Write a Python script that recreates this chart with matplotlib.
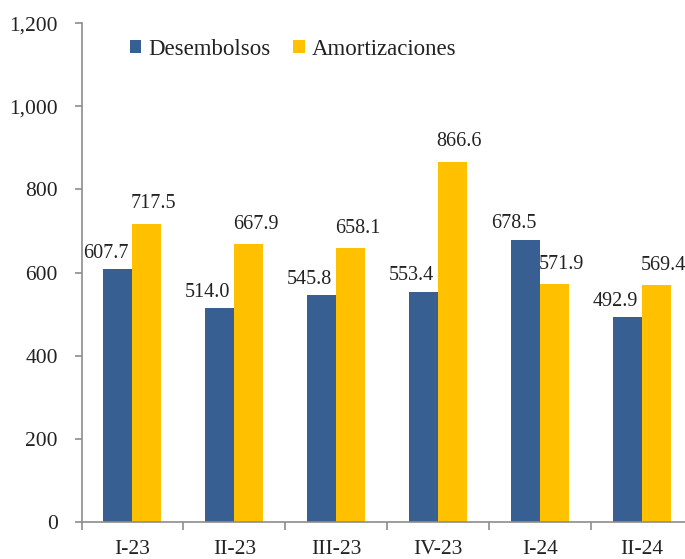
import matplotlib
matplotlib.use("Agg")
import matplotlib.pyplot as plt
import numpy as np

categories = ["I-23", "II-23", "III-23", "IV-23", "I-24", "II-24"]
desembolsos = [607.7, 514.0, 545.8, 553.4, 678.5, 492.9]
amortizaciones = [717.5, 667.9, 658.1, 866.6, 571.9, 569.4]
yticks = [0, 200, 400, 600, 800, 1000, 1200]
ytick_labels = ["0", "200", "400", "600", "800", "1,000", "1,200"]

plt.rcParams['font.family'] = ['Liberation Serif', 'DejaVu Serif']
blue = "#375F91"
yellow = "#FFC000"
axcol = "#8C8C8C"

fig = plt.figure(figsize=(6.85, 5.59), dpi=100)
ax = fig.add_axes([81.5/685, 1-521.7/559, (692.5-81.5)/685, (521.7-23.3)/559])

x = np.arange(len(categories))
w = 0.285
ax.bar(x - w/2, desembolsos, w, color=blue, label="Desembolsos")
ax.bar(x + w/2, amortizaciones, w, color=yellow, label="Amortizaciones")

for xi, v in zip(x, desembolsos):
    ax.annotate(f"{v:.1f}", (xi - w/2, v), xytext=(-8.5, 11.5), textcoords="offset points",
                ha="center", va="center", fontsize=14.5, color="#222222")
for xi, v in zip(x, amortizaciones):
    ax.annotate(f"{v:.1f}", (xi + w/2, v), xytext=(5, 14.5), textcoords="offset points",
                ha="center", va="center", fontsize=14.5, color="#222222")

ax.set_xlim(-0.5, len(categories) - 0.5)
ax.set_ylim(0, 1200)
ax.set_yticks(yticks)
ax.set_yticklabels(ytick_labels)
ax.set_xticks(x)
ax.set_xticklabels(categories)
ax.set_xticks(np.arange(len(categories) + 1) - 0.5, minor=True)
ax.tick_params(axis="x", which="major", length=0, pad=13, labelsize=15.5, colors="#222222")
ax.tick_params(axis="x", which="minor", length=6, color=axcol, width=1.2)
ax.tick_params(axis="y", length=5, color=axcol, width=1.2, pad=12, labelsize=15.5, labelcolor="#222222")

for s in ["top", "right"]:
    ax.spines[s].set_visible(False)
for s in ["left", "bottom"]:
    ax.spines[s].set_color(axcol)
    ax.spines[s].set_linewidth(1.2)

leg = ax.legend(loc="upper left", bbox_to_anchor=(0.045, 1.01), ncol=2, frameon=False,
                fontsize=16.5, handlelength=0.5, handleheight=0.5, handletextpad=0.3,
                columnspacing=1.0)
for t in leg.get_texts():
    t.set_color("#222222")

fig.savefig("out.png", dpi=100)
